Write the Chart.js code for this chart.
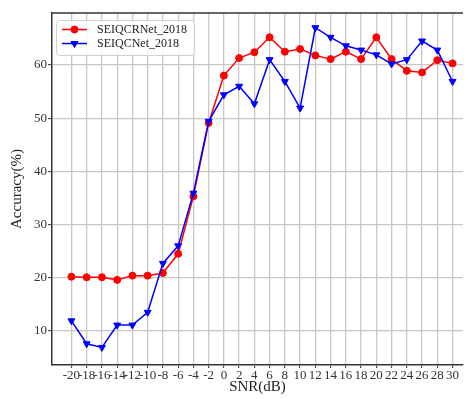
<!DOCTYPE html>
<html>
<head>
<meta charset="utf-8">
<script src="https://cdn.jsdelivr.net/npm/chart.js@4.4.1/dist/chart.umd.min.js"></script>
<style>
  body { margin: 0; background: #fff; }
  #wrap { width: 468px; height: 399px; }
</style>
</head>
<body>
<div id="wrap"><canvas id="myChart" width="468" height="399"></canvas></div>
<script>
// SNR values (dB) on the x axis
const snr = [-20, -18, -16, -14, -12, -10, -8, -6, -4, -2, 0, 2, 4, 6, 8, 10, 12, 14, 16, 18, 20, 22, 24, 26, 28, 30]
const yTicks = [10, 20, 30, 40, 50, 60]

// accuracy (%)
const seiqcrnet = [20.2, 20.1, 20.1, 19.6, 20.4, 20.4, 20.9, 24.5, 35.3, 49.1, 58.0, 61.3, 62.4, 65.2, 62.5, 63.0, 61.8, 61.1, 62.5, 61.1, 65.2, 61.1, 58.9, 58.6, 60.9, 60.3]
const seiqcnet = [11.9, 7.6, 6.9, 11.1, 11.1, 13.5, 22.7, 26.0, 35.9, 49.4, 54.4, 56.0, 52.7, 61.0, 56.9, 51.9, 67.0, 65.2, 63.6, 62.8, 61.9, 60.2, 61.0, 64.5, 62.8, 56.9]

const seriesNames = ['SEIQCRNet_2018', 'SEIQCNet_2018']

const FONT = "'Liberation Serif', 'Times New Roman', serif"

function pts(arr) {
  return arr.map((v, i) => ({ x: snr[i], y: v }))
}

// top frame line + legend inside the plot
const framePlugin = {
  id: 'frame',
  afterDraw(chart) {
    const ctx = chart.ctx
    const a = chart.chartArea
    ctx.save()
    ctx.strokeStyle = '#333'
    ctx.lineWidth = 1.5
    ctx.beginPath()
    ctx.moveTo(a.left - 0.75, a.top)
    ctx.lineTo(a.right, a.top)
    ctx.stroke()

    // legend box
    const bx = 56, by = 20, bw = 138, bh = 35
    ctx.fillStyle = 'rgba(255,255,255,0.85)'
    ctx.strokeStyle = '#d0d0d0'
    ctx.lineWidth = 1
    ctx.beginPath()
    ctx.roundRect(bx + 0.5, by + 0.5, bw, bh, 3)
    ctx.fill()
    ctx.stroke()

    const rows = [
      { ds: chart.data.datasets[0], y: 29.5 },
      { ds: chart.data.datasets[1], y: 43.5 }
    ]
    rows.forEach(r => {
      ctx.strokeStyle = r.ds.borderColor
      ctx.lineWidth = 1.5
      ctx.beginPath()
      ctx.moveTo(62, r.y)
      ctx.lineTo(87, r.y)
      ctx.stroke()
      ctx.fillStyle = r.ds.backgroundColor
      ctx.lineWidth = 1
      Chart.helpers.drawPoint(ctx, {
        pointStyle: r.ds.pointStyle,
        rotation: r.ds.pointRotation || 0,
        radius: r.ds.pointRadius,
        borderWidth: 1
      }, 74.5, r.y)
      ctx.fillStyle = '#222'
      ctx.font = '12px ' + FONT
      ctx.textBaseline = 'middle'
      ctx.fillText(r.ds.label, 97, r.y + 0.5)
    })
    ctx.restore()
  }
}

function updateGraph() {
  const ctx = document.getElementById('myChart').getContext('2d')
  const chart = new Chart(ctx, {
    type: 'line',
    data: {
      datasets: [{
        label: seriesNames[0],
        data: pts(seiqcrnet),
        borderColor: '#ff0000',
        backgroundColor: '#ff0000',
        borderWidth: 1.5,
        pointStyle: 'circle',
        pointRadius: 3.5,
        pointBorderWidth: 1,
        order: 2
      }, {
        label: seriesNames[1],
        data: pts(seiqcnet),
        borderColor: '#0000ff',
        backgroundColor: '#0000ff',
        borderWidth: 1.5,
        pointStyle: 'triangle',
        pointRotation: 180,
        pointRadius: 4,
        pointBorderWidth: 1,
        order: 1
      }]
    },
    options: {
      responsive: false,
      animation: false,
      layout: { padding: { top: 13, right: 0, left: 0, bottom: 0 } },
      plugins: {
        legend: { display: false },
        tooltip: { enabled: false }
      },
      scales: {
        x: {
          type: 'linear',
          min: -22.55,
          max: 31.37,
          afterFit(s) { s.height = 34 },
          afterBuildTicks(s) { s.ticks = snr.map(v => ({ value: v })) },
          grid: { color: '#c8c8c8', lineWidth: 1.3, tickLength: 3, tickColor: '#333', tickWidth: 1 },
          border: { color: '#333', width: 1.5 },
          ticks: {
            autoSkip: false, maxRotation: 0, minRotation: 0, padding: 0,
            color: '#333', font: { family: FONT, size: 13 }
          },
          title: {
            display: true, text: 'SNR(dB)', color: '#222',
            font: { family: FONT, size: 15 }, padding: { top: 0, bottom: 3 }
          }
        },
        y: {
          min: 3.6,
          max: 69.77,
          afterFit(s) { s.width = 52 },
          afterBuildTicks(s) { s.ticks = yTicks.map(v => ({ value: v })) },
          grid: { color: '#c8c8c8', lineWidth: 1.3, tickLength: 4, tickColor: '#333', tickWidth: 1 },
          border: { color: '#333', width: 1.5 },
          ticks: {
            padding: 1, color: '#333', font: { family: FONT, size: 13 }
          },
          title: {
            display: true, text: 'Accuracy(%)', color: '#222',
            font: { family: FONT, size: 15 }, padding: { top: 8, bottom: 0 }
          }
        }
      }
    },
    plugins: [framePlugin]
  })
}
updateGraph()
</script>
</body>
</html>
